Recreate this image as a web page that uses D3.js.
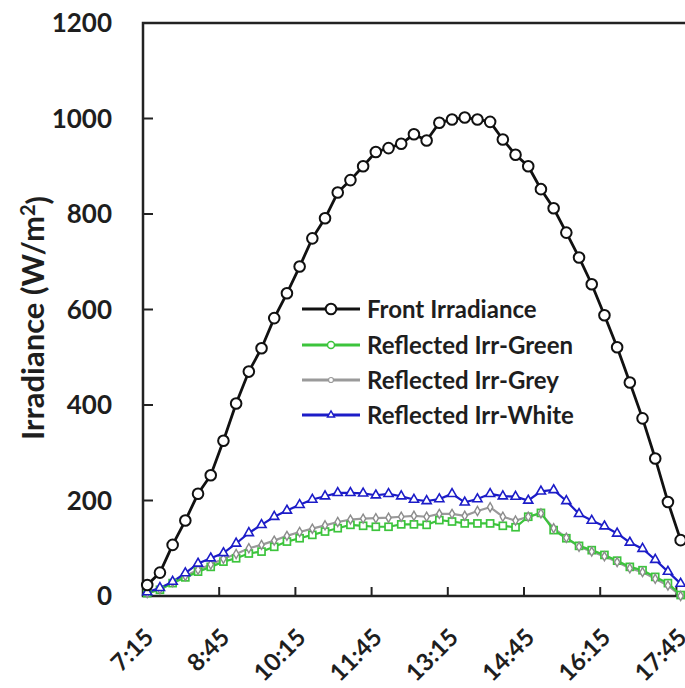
<!DOCTYPE html>
<html>
<head>
<meta charset="utf-8">
<script src="https://cdn.jsdelivr.net/npm/d3@7"></script>
<style>
  body { margin: 0; background: #fff; }
  text { font-family: Lato, "Open Sans", sans-serif; font-weight: bold; fill: #1e1e1e; }
</style>
</head>
<body>
<div id="chart"></div>
<script>
// readings every 15 min, first one at 7:20
var startMin = 440
var stepMin = 15

var tickLabels = ["7:15","8:45","10:15","11:45","13:15","14:45","16:15","17:45"]
var yTicks = [0,200,400,600,800,1000,1200]

var front = [23,49,107,158,214,253,325,403,470,519,582,634,690,749,791,845,871,900,930,938,947,967,954,991,998,1002,998,993,956,924,900,852,812,761,709,653,588,521,447,372,288,197,117]
var green = [6,13,27,39,51,61,72,79,89,93,103,114,121,128,135,142,149,147,145,145,150,150,149,159,156,152,152,152,147,144,166,174,138,121,105,96,86,74,61,54,40,27,2]
var grey = [6,14,29,42,55,66,78,88,100,107,116,126,134,141,148,155,160,162,163,164,166,168,166,172,172,168,178,186,166,158,166,173,142,122,103,93,83,71,58,50,36,22,0]
var white = [8,17,30,48,68,79,90,110,132,149,166,179,191,202,209,216,216,215,211,214,209,202,199,203,214,196,203,214,209,208,200,219,222,199,172,158,146,131,112,99,76,51,26]

var seriesNames = ["Front Irradiance","Reflected Irr-Green","Reflected Irr-Grey","Reflected Irr-White"]

const width = 685, height = 688
const mLeft = 143, mTop = 23, mBottom = 596

function toMin(s){ var p = s.split(":"); return (+p[0])*60 + (+p[1]) }

const x = d3.scaleLinear().domain([435, 1080]).range([mLeft, mLeft + 645*76.2/90])
const y = d3.scaleLinear().domain([0, 1200]).range([mBottom, mTop])

const svg = d3.select("#chart").append("svg")
  .attr("width", width).attr("height", height)

// frame
svg.append("rect")
  .attr("x", mLeft).attr("y", mTop)
  .attr("width", x(1080) - mLeft).attr("height", mBottom - mTop)
  .attr("fill", "none").attr("stroke", "#222").attr("stroke-width", 2.5)

// y ticks + labels
svg.selectAll(".yt").data(yTicks).join("line")
  .attr("x1", mLeft).attr("x2", mLeft + 10)
  .attr("y1", d => y(d)).attr("y2", d => y(d))
  .attr("stroke", "#222").attr("stroke-width", 2)
svg.selectAll(".yl").data(yTicks).join("text")
  .attr("x", 112).attr("y", d => y(d))
  .attr("dy", "0.36em")
  .attr("text-anchor", "end")
  .style("font-size", "26px")
  .text(d => d)

// x ticks + labels
svg.selectAll(".xt").data(tickLabels).join("line")
  .attr("x1", d => x(toMin(d))).attr("x2", d => x(toMin(d)))
  .attr("y1", mBottom).attr("y2", mBottom - 9)
  .attr("stroke", "#222").attr("stroke-width", 2)
svg.selectAll(".xl").data(tickLabels).join("text")
  .attr("transform", d => `translate(${x(toMin(d)) + 12}, 639) rotate(-45)`)
  .attr("text-anchor", "end")
  .style("font-size", "24px")
  .text(d => d)

// axis title
var yt = svg.append("text")
  .attr("transform", "translate(44, 318) rotate(-90)")
  .attr("text-anchor", "middle")
  .style("font-size", "31px")
yt.append("tspan").text("Irradiance (W/m")
yt.append("tspan").attr("dy", "-0.45em").style("font-size", "20px").text("2")
yt.append("tspan").attr("dy", "0.45em").text(")")

var tx = (d, i) => x(startMin + i*stepMin)
var line = d3.line().x(tx).y(d => y(d))

// symbols
const tri = d3.symbol().type(d3.symbolTriangle).size(36)()
const dia = d3.symbol().type(d3.symbolDiamond).size(24)()

function drawLine(vals, col, w){
  svg.append("path").datum(vals)
    .attr("d", line).attr("fill", "none")
    .attr("stroke", col).attr("stroke-width", w)
}

drawLine(grey, "#9a9a9a", 2.2)
drawLine(green, "#3cc43c", 2.2)
drawLine(white, "#1c1cc8", 2.2)
drawLine(front, "#111", 2.8)

svg.selectAll(".mg").data(green).join("rect")
  .attr("x", (d,i) => tx(d,i) - 3.5).attr("y", d => y(d) - 3.5)
  .attr("width", 7).attr("height", 7)
  .attr("fill", "#fff").attr("stroke", "#3cc43c").attr("stroke-width", 1.7)
svg.selectAll(".mgr").data(grey).join("path")
  .attr("d", dia)
  .attr("transform", (d,i) => `translate(${tx(d,i)},${y(d)})`)
  .attr("fill", "#fff").attr("stroke", "#8c8c8c").attr("stroke-width", 1.4)
svg.selectAll(".mw").data(white).join("path")
  .attr("d", tri)
  .attr("transform", (d,i) => `translate(${tx(d,i)},${y(d)})`)
  .attr("fill", "#fff").attr("stroke", "#1c1cc8").attr("stroke-width", 1.6)
svg.selectAll(".mf").data(front).join("circle")
  .attr("cx", tx).attr("cy", d => y(d)).attr("r", 5.3)
  .attr("fill", "#fff").attr("stroke", "#111").attr("stroke-width", 2)

// legend
var legCols = ["#111","#3cc43c","#9a9a9a","#1c1cc8"]
var legY = [309, 345, 380, 415]
var lg = svg.selectAll(".lg").data(seriesNames).join("g")
  .attr("transform", (d,i) => `translate(302, ${legY[i]})`)
lg.append("line").attr("x1", 0).attr("x2", 58)
  .attr("stroke", (d,i) => legCols[i]).attr("stroke-width", 2.8)
lg.each(function(d, i){
  var g = d3.select(this)
  if (i == 0) g.append("circle").attr("cx", 29).attr("r", 5.3).attr("fill", "#fff").attr("stroke", "#111").attr("stroke-width", 2)
  if (i == 1) g.append("circle").attr("cx", 29).attr("r", 3.5).attr("fill", "#fff").attr("stroke", "#3cc43c").attr("stroke-width", 1.5)
  if (i == 2) g.append("circle").attr("cx", 29).attr("r", 2.5).attr("fill", "#fff").attr("stroke", "#9a9a9a").attr("stroke-width", 1.2)
  if (i == 3) g.append("path").attr("d", d3.symbol().type(d3.symbolTriangle).size(22)()).attr("transform", "translate(29,0)").attr("fill", "#fff").attr("stroke", "#1c1cc8").attr("stroke-width", 1.4)
})
lg.append("text").attr("x", 65).attr("dy", "0.36em")
  .style("font-size", "24px")
  .text(d => d)
</script>
</body>
</html>
